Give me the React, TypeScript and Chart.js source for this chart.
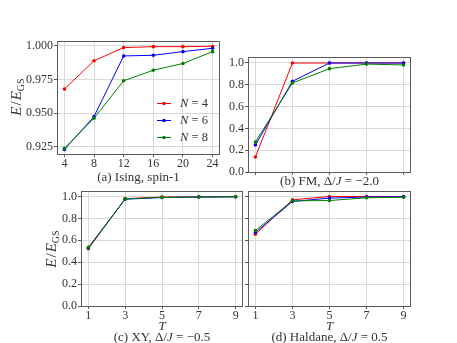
import React, { useEffect, useRef } from "react";
import { Chart, registerables } from "chart.js";

Chart.register(...registerables);

// ---------- data ----------
const isingT = [4, 8, 12, 16, 20, 24];
const isingN4 = [0.968, 0.989, 0.9988, 0.9995, 0.9995, 0.9998];
const isingN6 = [0.9232, 0.9476, 0.9926, 0.9931, 0.9958, 0.9983];
const isingN8 = [0.924, 0.9464, 0.9742, 0.982, 0.987, 0.9958];

const tValues = [1, 3, 5, 7, 9];
const fmN4 = [0.138, 1.0, 1.0, 1.0, 1.0];
const fmN6 = [0.248, 0.832, 1.0, 1.0, 1.0];
const fmN8 = [0.275, 0.817, 0.948, 0.99, 0.982];

const xyN4 = [0.523, 0.98, 0.995, 0.997, 0.998];
const xyN6 = [0.53, 0.975, 0.99, 0.995, 0.997];
const xyN8 = [0.535, 0.978, 0.992, 0.995, 0.997];

const haldN4 = [0.655, 0.969, 1.0, 1.0, 1.0];
const haldN6 = [0.671, 0.954, 0.985, 0.995, 0.998];
const haldN8 = [0.689, 0.96, 0.963, 0.988, 0.993];

const seriesLabels = ["4", "6", "8"];
const seriesColors = ["#ff0000", "#0000ff", "#008000"];

const isingYTicks = [0.925, 0.95, 0.975, 1.0];
const isingYTickLabels = ["0.925", "0.950", "0.975", "1.000"];
const isingXTickLabels = ["4", "8", "12", "16", "20", "24"];
const ratioYTicks = [0, 0.2, 0.4, 0.6, 0.8, 1.0];
const ratioYTickLabels = ["0.0", "0.2", "0.4", "0.6", "0.8", "1.0"];
const tTickLabels = ["1", "3", "5", "7", "9"];

const W = 457;
const H = 343;
const FONT = "'Liberation Serif', 'DejaVu Serif', serif";
const TEXT = "#333333";
const FRAME = "#5a5a5a";
const GRID = "#d9d9d9";

type Panel = {
  box: [number, number, number, number]; // L, T, R, B
  xs: number[];
  series: number[][];
  xMin: number;
  xMax: number;
  yMin: number;
  yMax: number;
  xTicks: number[];
  xTickLabels: string[];
  yTicks: number[];
  yTickLabels: string[];
  showX: boolean;
  showY: boolean;
  legend: boolean;
};

const panels: Panel[] = [
  {
    box: [57, 41, 220, 154],
    xs: isingT,
    series: [isingN4, isingN6, isingN8],
    xMin: 3, xMax: 25, yMin: 0.9198, yMax: 1.0037,
    xTicks: isingT, xTickLabels: isingXTickLabels,
    yTicks: isingYTicks, yTickLabels: isingYTickLabels,
    showX: true, showY: true, legend: true,
  },
  {
    box: [248, 57, 411, 172],
    xs: tValues,
    series: [fmN4, fmN6, fmN8],
    xMin: 0.6, xMax: 9.4, yMin: 0, yMax: 1.055,
    xTicks: tValues, xTickLabels: tTickLabels,
    yTicks: ratioYTicks, yTickLabels: ratioYTickLabels,
    showX: false, showY: true, legend: false,
  },
  {
    box: [81, 191, 243, 306],
    xs: tValues,
    series: [xyN4, xyN6, xyN8],
    xMin: 0.6, xMax: 9.4, yMin: 0, yMax: 1.05,
    xTicks: tValues, xTickLabels: tTickLabels,
    yTicks: ratioYTicks, yTickLabels: ratioYTickLabels,
    showX: true, showY: true, legend: false,
  },
  {
    box: [248, 191, 411, 306],
    xs: tValues,
    series: [haldN4, haldN6, haldN8],
    xMin: 0.6, xMax: 9.4, yMin: 0, yMax: 1.05,
    xTicks: tValues, xTickLabels: tTickLabels,
    yTicks: ratioYTicks, yTickLabels: ratioYTickLabels,
    showX: true, showY: false, legend: false,
  },
];

const framePlugin = {
  id: "frame",
  afterDraw(chart: any) {
    const { left, top, right, bottom } = chart.chartArea;
    const ctx = chart.ctx;
    ctx.save();
    ctx.strokeStyle = FRAME;
    ctx.lineWidth = 1;
    ctx.strokeRect(Math.round(left) + 0.5, Math.round(top) + 0.5, Math.round(right - left) - 1, Math.round(bottom - top));
    ctx.restore();
  },
};

const insideLegendPlugin = {
  id: "insideLegend",
  afterDraw(chart: any, _args: any, opts: any) {
    if (!opts || !opts.show) return;
    const ctx = chart.ctx;
    const area = chart.chartArea;
    const x0 = area.left + 100;
    const y0 = area.top + 62;
    const rowH = 17;
    ctx.save();
    chart.data.datasets.forEach((ds: any, i: number) => {
      const y = y0 + i * rowH;
      ctx.strokeStyle = ds.borderColor;
      ctx.lineWidth = 1;
      ctx.beginPath();
      ctx.moveTo(x0, y + 0.5);
      ctx.lineTo(x0 + 14, y + 0.5);
      ctx.stroke();
      ctx.fillStyle = ds.borderColor;
      ctx.beginPath();
      ctx.arc(x0 + 7, y + 0.5, 1.8, 0, Math.PI * 2);
      ctx.fill();
      ctx.fillStyle = TEXT;
      ctx.textBaseline = "middle";
      ctx.font = `italic 12.5px ${FONT}`;
      const tx = x0 + 23;
      ctx.fillText("N", tx, y + 1);
      const nw = ctx.measureText("N").width;
      ctx.font = `12.5px ${FONT}`;
      ctx.fillText(" = " + ds.nLabel, tx + nw, y + 1);
    });
    ctx.restore();
  },
};

function PanelChart({ p }: { p: Panel }) {
  const ref = useRef<HTMLCanvasElement | null>(null);
  useEffect(() => {
    if (!ref.current) return;
    const [L, T, R, B] = p.box;
    const datasets = p.series.map((vals, i) => ({
      label: "N=" + seriesLabels[i],
      nLabel: seriesLabels[i],
      data: p.xs.map((x, j) => ({ x, y: vals[j] })),
      borderColor: seriesColors[i],
      backgroundColor: seriesColors[i],
      borderWidth: 1,
      pointRadius: 1.8,
      pointHoverRadius: 1.8,
      pointBorderWidth: 0,
      pointStyle: "circle",
      tension: 0,
      order: 2 - i,
      clip: false,
    }));
    const chart = new Chart(ref.current, {
      type: "line",
      data: { datasets } as any,
      plugins: [framePlugin, insideLegendPlugin],
      options: {
        animation: false,
        responsive: false,
        devicePixelRatio: 1,
        events: [],
        layout: { padding: { left: 0, top: T, right: W - R, bottom: 0 } },
        plugins: {
          legend: { display: false },
          tooltip: { enabled: false },
          insideLegend: { show: p.legend },
        } as any,
        scales: {
          x: {
            type: "linear",
            min: p.xMin,
            max: p.xMax,
            afterBuildTicks: (s: any) => {
              s.ticks = p.xTicks.map((v) => ({ value: v }));
            },
            afterFit: (s: any) => {
              s.height = H - B;
            },
            ticks: {
              display: p.showX,
              autoSkip: false,
              maxRotation: 0,
              padding: 0,
              color: TEXT,
              font: { family: FONT, size: 12 },
              callback: (_v: any, i: number) => p.xTickLabels[i],
            },
            grid: { color: GRID, lineWidth: 1, drawTicks: true, tickLength: 3, tickColor: FRAME },
            border: { display: false },
          },
          y: {
            type: "linear",
            min: p.yMin,
            max: p.yMax,
            afterBuildTicks: (s: any) => {
              s.ticks = p.yTicks.map((v) => ({ value: v }));
            },
            afterFit: (s: any) => {
              s.width = L;
            },
            ticks: {
              display: p.showY,
              autoSkip: false,
              padding: 1,
              color: TEXT,
              font: { family: FONT, size: 12 },
              callback: (_v: any, i: number) => p.yTickLabels[i],
            },
            grid: { color: GRID, lineWidth: 1, drawTicks: true, tickLength: 3, tickColor: FRAME },
            border: { display: false },
          },
        },
      } as any,
    });
    return () => chart.destroy();
  }, [p]);
  return (
    <canvas
      ref={ref}
      width={W}
      height={H}
      style={{ position: "absolute", left: 0, top: 0, width: W, height: H }}
    />
  );
}

const textBase: React.CSSProperties = {
  position: "absolute",
  transform: "translate(-50%, -50%)",
  whiteSpace: "nowrap",
  fontFamily: FONT,
  color: TEXT,
  fontSize: 13,
  lineHeight: 1,
};

function YLabel({ x, y }: { x: number; y: number }) {
  return (
    <div style={{ ...textBase, left: x, top: y, fontSize: 15, transform: "translate(-50%, -50%) rotate(-90deg)" }}>
      <i>E</i>
      <span style={{ margin: "0 1px" }}>/</span>
      <i>E</i>
      <sub style={{ fontSize: 10, verticalAlign: "-3px" }}>GS</sub>
    </div>
  );
}

function Caption({ x, y, children }: { x: number; y: number; children: React.ReactNode }) {
  return <div style={{ ...textBase, left: x, top: y }}>{children}</div>;
}

export default function App() {
  return (
    <div style={{ position: "fixed", left: 0, top: 0, width: W, height: H, background: "#fff", overflow: "hidden" }}>
      {panels.map((p, i) => (
        <PanelChart key={i} p={p} />
      ))}
      <YLabel x={17} y={97} />
      <YLabel x={52} y={249} />
      <Caption x={138.5} y={176}>(a) Ising, spin-1</Caption>
      <Caption x={329.5} y={180}>
        (b) FM, Δ/<i>J</i> = −2.0
      </Caption>
      <Caption x={162} y={325}>
        <i>T</i>
      </Caption>
      <Caption x={329.5} y={325}>
        <i>T</i>
      </Caption>
      <Caption x={162} y={336}>
        (c) XY, Δ/<i>J</i> = −0.5
      </Caption>
      <Caption x={329.5} y={336}>
        (d) Haldane, Δ/<i>J</i> = 0.5
      </Caption>
    </div>
  );
}
